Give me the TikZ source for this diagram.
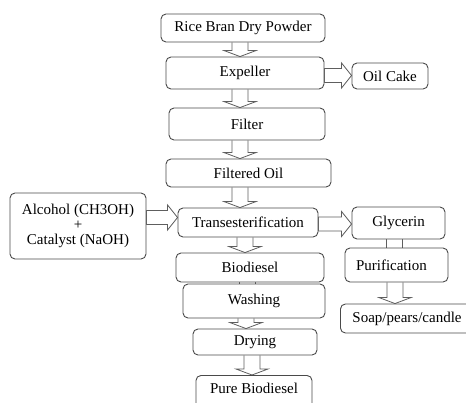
\documentclass[tikz,border=0pt]{standalone}
\usepackage{fontspec}
\setmainfont{Liberation Serif}
\usetikzlibrary{calc, backgrounds}
\definecolor{cedge}{HTML}{4A4A4A}
\definecolor{carrow}{HTML}{5E5E5E}
\tikzset{
  every picture/.style={x=1pt, y=-1pt, font=\fontsize{15}{17}\selectfont},
  box/.style={draw=cedge, fill=white, rounded corners=5pt, line width=0.9pt, inner sep=2pt, align=center},
  fatarrow/.style={draw=carrow, fill=white, line width=0.8pt, line join=miter},
}
% hollow block arrows between boxes
\newcommand\fatdown[3][0]{%
  \draw[fatarrow] let \p1=($(#2.south)+(#1,0)$), \p2=(#3.north) in
    (\x1-8pt,\y1) -- (\x1-8pt,\y2+6pt) -- (\x1-16pt,\y2+6pt) -- (\x1,\y2)
    -- (\x1+16pt,\y2+6pt) -- (\x1+8pt,\y2+6pt) -- (\x1+8pt,\y1);}
\newcommand\fatjoin[3][0]{%
  \draw[fatarrow] let \p1=($(#2.south)+(#1,0)$), \p2=(#3.north) in
    (\x1-8pt,\y1) -- (\x1-8pt,\y2) (\x1+8pt,\y1) -- (\x1+8pt,\y2);}
\newcommand\fatright[3][0]{%
  \draw[fatarrow] let \p1=($(#2.east)+(0,#1)$), \p2=(#3.west) in
    (\x1,\y1+7pt) -- (\x2-10pt,\y1+7pt) -- (\x2-10pt,\y1+12.5pt) -- (\x2,\y1)
    -- (\x2-10pt,\y1-12.5pt) -- (\x2-10pt,\y1-7pt) -- (\x1,\y1-7pt) -- cycle;}

\begin{document}
\begin{tikzpicture}
  \useasboundingbox (0,0) rectangle (466,402);
  \clip (0,0) rectangle (466,402);
  % main line
  \node[box, minimum width=164, minimum height=28] (rice) at (243,28) {Rice Bran Dry Powder};
  \node[box, minimum width=158, minimum height=32] (expeller) at (245,73) {Expeller};
  \node[box, minimum width=76, minimum height=26] (oilcake) at (390,76) {Oil Cake};
  \node[box, minimum width=156, minimum height=32] (filter) at (247,124) {Filter};
  \node[box, minimum width=165, minimum height=28] (filtered) at (248.5,173) {Filtered Oil};
  \node[box, minimum width=140, minimum height=29] (trans) at (248,222.5) {Transesterification};
  \node[box, minimum width=136, minimum height=66, font=\fontsize{15}{15}\selectfont] (alcohol) at (78,226) {Alcohol (CH3OH)\\+\\Catalyst (NaOH)};
  % glycerin branch
  \node[box, minimum width=93, minimum height=32] (glycerin) at (398.5,223) {Glycerin};
  \node[box, align=left, text width=81, inner xsep=11, minimum height=34] (purif) at (396.5,265) {Purification};
  \node[box, anchor=west, align=left, text width=120, inner xsep=12, minimum height=29] (soap) at (340,318.5) {Soap/pears/candle};
  % biodiesel line
  \node[box, minimum width=148, minimum height=29] (biodiesel) at (250,267.5) {Biodiesel};
  \node[box, minimum width=142, minimum height=34] (washing) at (254,301) {Washing};
  \node[box, minimum width=124, minimum height=26] (drying) at (255,342) {Drying};
  \node[box, anchor=north, minimum width=116, text height=11, text depth=20, inner ysep=7] (pure) at (254,375) {Pure Biodiesel};
  \begin{scope}[on background layer]
    \fatdown[-3]{rice}{expeller}
    \fatdown[-5]{expeller}{filter}
    \fatdown[-7]{filter}{filtered}
    \fatdown[-8.5]{filtered}{trans}
    \fatdown[-3]{trans}{biodiesel}
    \fatjoin[-3]{biodiesel}{washing}
    \fatdown[-8]{washing}{drying}
    \fatdown[-3]{drying}{pure}
    \fatjoin[-4]{glycerin}{purif}
    \fatdown[-1.5]{purif}{soap}
    \fatright[2.5]{expeller}{oilcake}
    \fatright[-8.5]{alcohol}{trans}
    \fatright[1.5]{trans}{glycerin}
  \end{scope}
\end{tikzpicture}
\end{document}
